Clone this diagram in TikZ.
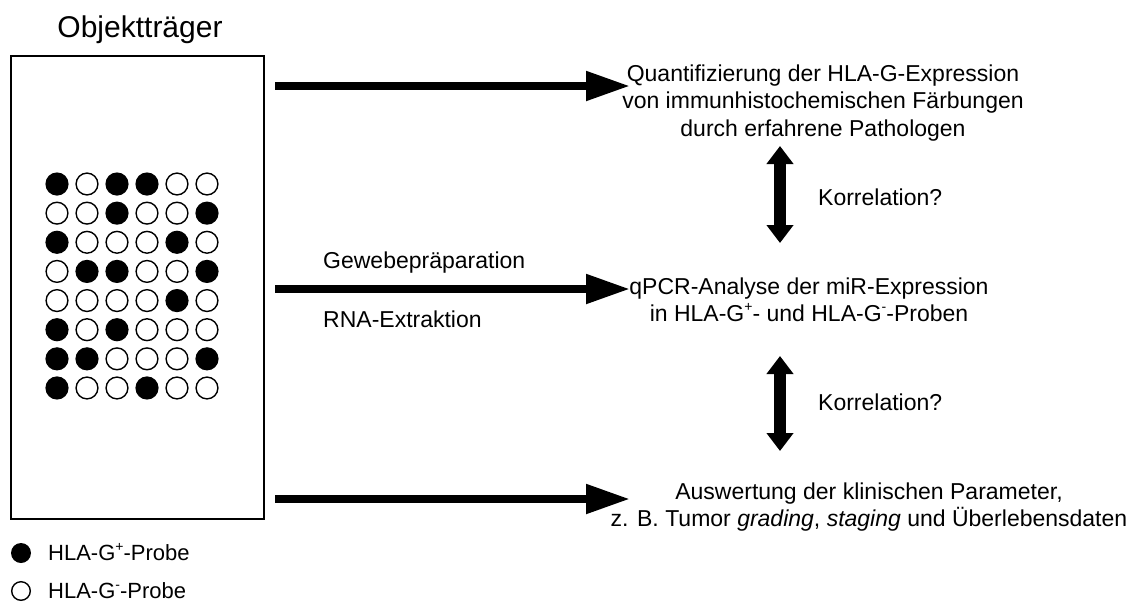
\documentclass[tikz,border=0pt]{standalone}
\usepackage{fontspec}
\setmainfont{Liberation Sans}
\usetikzlibrary{arrows.meta}
\newcommand{\supp}[1]{\raisebox{0.42em}{\fontsize{14}{14}\selectfont #1}}
\begin{document}
\begin{tikzpicture}[x=1pt,y=-1pt,
  txt/.style={font=\fontsize{23}{27}\selectfont, inner sep=0pt, anchor=base},
  ctxt/.style={txt},
  ltxt/.style={txt, anchor=base west},
  legtxt/.style={font=\fontsize{22}{26}\selectfont, inner sep=0pt, anchor=base west},
  harrow/.style={line width=8pt, -{Triangle[length=44pt,width=28pt]}},
  varrow/.style={line width=12pt, {Triangle[length=18pt,width=26pt]}-{Triangle[length=18pt,width=26pt]}},
  fdot/.style={fill=black},
  odot/.style={draw=black, line width=1.4pt, fill=white}]
\useasboundingbox (0,0) rectangle (1133,606);
% title and slide
\node[font=\fontsize{30}{36}\selectfont, inner sep=0pt, anchor=base] (title) at (140,37) {Objektträger};
\node[draw, line width=1.5pt, minimum width=253pt, minimum height=463pt, anchor=north west, inner sep=0pt] (slide) at (10,55) {};
% dots
\foreach \row [count=\j from 0] in {{1,0,1,1,0,0},{0,0,1,0,0,1},{1,0,0,0,1,0},{0,1,1,0,0,1},{0,0,0,0,1,0},{1,0,1,0,0,0},{1,1,0,0,0,1},{1,0,0,1,0,0}} {
  \foreach \f [count=\i from 0] in \row {
    \ifnum\f=1
      \fill[fdot] ({57+30*\i},{184+29.14*\j}) circle (11.6);
    \else
      \draw[odot] ({57+30*\i},{184+29.14*\j}) circle (10.9);
    \fi
  }
}
% right texts
\node[ctxt] (q1) at (823,81) {Quantifizierung der HLA-G-Expression};
\node[ctxt] (q2) at (823,108.5) {von immunhistochemischen Färbungen};
\node[ctxt] (q3) at (823,136) {durch erfahrene Pathologen};
\node[ctxt] (p1) at (809,294) {qPCR-Analyse der miR-Expression};
\node[ctxt] (p2) at (809,321.5) {in HLA-G\supp{+}- und HLA-G\supp{-}-Proben};
\node[ctxt] (a1) at (869,499) {Auswertung der klinischen Parameter,};
\node[ctxt] (a2) at (869,526.5) {z. B. Tumor \textit{grading}, \textit{staging} und Überlebensdaten};
\node[ltxt] (k1) at (818,205) {Korrelation?};
\node[ltxt] (k2) at (818,410) {Korrelation?};
\node[ltxt] (g1) at (323,268) {Gewebepräparation};
\node[ltxt] (g2) at (323,327) {RNA-Extraktion};
% arrows
\coordinate (s1) at (275,86);  \coordinate (t1) at (630,86);
\coordinate (s2) at (275,289); \coordinate (t2) at (630,289);
\coordinate (s3) at (275,499); \coordinate (t3) at (630,499);
\draw[harrow] (s1) -- (t1);
\draw[harrow] (s2) -- (t2);
\draw[harrow] (s3) -- (t3);
\coordinate (u1) at (780,146); \coordinate (v1) at (780,243);
\coordinate (u2) at (780,356); \coordinate (v2) at (780,451);
\draw[varrow] (u1) -- (v1);
\draw[varrow] (u2) -- (v2);
% legend
\fill[fdot] (21,553) circle (10);
\draw[odot] (21,591) circle (9.3);
\node[legtxt] (l1) at (48,560.5) {HLA-G\supp{+}-Probe};
\node[legtxt] (l2) at (48,598.5) {HLA-G\supp{-}-Probe};
\end{tikzpicture}
\end{document}
